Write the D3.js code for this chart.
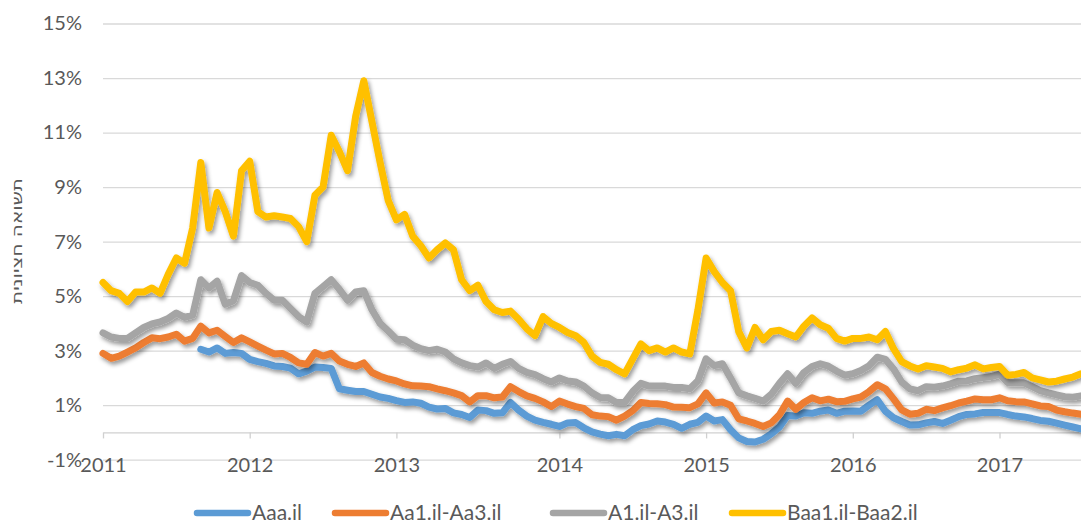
<!DOCTYPE html>
<html>
<head>
<meta charset="utf-8">
<script src="https://cdn.jsdelivr.net/npm/d3@7"></script>
<style>
  body { margin: 0; background: #fff; }
  svg text { font-family: Lato, "DejaVu Sans", sans-serif; fill: #595959; }
</style>
</head>
<body>
<svg id="chart" width="1081" height="524"></svg>
<script>
// year labels sit on the observation index where each year starts (category axis)
const yearLabels = ["2011", "2012", "2013", "2014", "2015", "2016", "2017"];
const yearIdx = [0, 18, 36, 56, 74, 92, 110];
const yTicks = [-1, 1, 3, 5, 7, 9, 11, 13, 15];

const seriesNames = ["Aaa.il", "Aa1.il-Aa3.il", "A1.il-A3.il", "Baa1.il-Baa2.il"];
const seriesColors = ["#5b9bd5", "#ed7d31", "#a5a5a5", "#ffc000"];

// median yields, %
const aaa = [
  null, null, null, null, null, null, null, null, null, null,
  null, null, 3.05, 2.95, 3.1, 2.9, 2.93, 2.9, 2.68, 2.6,
  2.53, 2.44, 2.42, 2.36, 2.15, 2.25, 2.4, 2.38, 2.35, 1.6,
  1.55, 1.5, 1.5, 1.4, 1.3, 1.25, 1.17, 1.1, 1.12, 1.07,
  0.93, 0.86, 0.88, 0.72, 0.66, 0.55, 0.82, 0.8, 0.7, 0.72,
  1.1, 0.82, 0.6, 0.45, 0.37, 0.3, 0.22, 0.35, 0.36, 0.17,
  0.02, -0.06, -0.12, -0.07, -0.12, 0.1, 0.25, 0.31, 0.42, 0.38,
  0.3, 0.15, 0.3, 0.37, 0.6, 0.42, 0.47, 0.1, -0.2, -0.33,
  -0.35, -0.25, -0.05, 0.2, 0.62, 0.6, 0.72, 0.7, 0.78, 0.82,
  0.7, 0.78, 0.79, 0.78, 1.0, 1.2, 0.78, 0.54, 0.4, 0.27,
  0.28, 0.35, 0.4, 0.33, 0.45, 0.58, 0.66, 0.68, 0.73, 0.73,
  0.73, 0.66, 0.6, 0.57, 0.51, 0.44, 0.41, 0.34, 0.27, 0.2,
  0.13
];
const aa = [
  2.9, 2.72, 2.8, 2.95, 3.1, 3.3, 3.47, 3.44, 3.5, 3.6,
  3.35, 3.45, 3.9, 3.65, 3.75, 3.52, 3.3, 3.47, 3.32, 3.17,
  3.02, 2.88, 2.9, 2.75, 2.55, 2.5, 2.93, 2.8, 2.9, 2.62,
  2.5, 2.42, 2.55, 2.2, 2.06, 1.96, 1.89, 1.78, 1.71, 1.7,
  1.68, 1.6, 1.53, 1.45, 1.35, 1.12, 1.35, 1.35, 1.27, 1.3,
  1.68, 1.5, 1.34, 1.25, 1.12, 0.95, 1.15, 1.04, 0.95, 0.88,
  0.65, 0.6, 0.58, 0.45, 0.6, 0.8, 1.1, 1.06, 1.05, 1.02,
  0.93, 0.92, 0.91, 1.05, 1.45, 1.08, 1.12, 1.0, 0.5, 0.42,
  0.33, 0.22, 0.35, 0.65, 1.15, 0.85, 1.1, 1.27, 1.16, 1.22,
  1.13, 1.14, 1.23, 1.3, 1.5, 1.75, 1.6, 1.23, 0.83, 0.67,
  0.7, 0.85, 0.8, 0.9, 0.98, 1.08, 1.15, 1.23, 1.2, 1.2,
  1.27, 1.16, 1.13, 1.12, 1.05, 0.97, 0.95, 0.82, 0.76, 0.71,
  0.67
];
const a = [
  3.65, 3.5, 3.45, 3.45, 3.65, 3.85, 3.98, 4.05, 4.18, 4.38,
  4.22, 4.3, 5.6, 5.3, 5.55, 4.7, 4.83, 5.75, 5.5, 5.4,
  5.1, 4.85, 4.85, 4.55, 4.25, 4.05, 5.1, 5.35, 5.6, 5.25,
  4.85, 5.15, 5.2, 4.5, 4.0, 3.72, 3.42, 3.4, 3.2, 3.07,
  3.0, 3.05, 2.95, 2.7, 2.55, 2.45, 2.4, 2.55, 2.35, 2.5,
  2.6, 2.35, 2.2, 2.12, 1.97, 1.85, 2.0, 1.89, 1.85, 1.7,
  1.45, 1.28, 1.27, 1.1, 1.1, 1.5, 1.8, 1.7, 1.7, 1.7,
  1.65, 1.65, 1.6, 1.9, 2.7, 2.45, 2.52, 2.0, 1.45, 1.34,
  1.25, 1.15, 1.4, 1.8, 2.15, 1.8, 2.2, 2.42, 2.52, 2.43,
  2.25, 2.1, 2.15, 2.27, 2.45, 2.76, 2.68, 2.33, 1.85, 1.6,
  1.53, 1.68, 1.66, 1.7, 1.78, 1.88, 1.89, 1.97, 2.01, 2.05,
  2.14, 1.83, 1.82, 1.82, 1.68, 1.53, 1.45, 1.38, 1.31, 1.29,
  1.34
];
const baa = [
  5.5, 5.2, 5.1, 4.8, 5.15, 5.15, 5.3, 5.1, 5.8, 6.4,
  6.2, 7.5, 9.9, 7.5, 8.8, 8.1, 7.2, 9.6, 9.95, 8.1,
  7.9, 7.95, 7.9, 7.85, 7.55, 7.0, 8.7, 9.0, 10.9, 10.3,
  9.6, 11.6, 12.9, 11.4, 9.9, 8.5, 7.8, 8.0, 7.2, 6.85,
  6.4, 6.7, 6.95, 6.7, 5.6, 5.2, 5.4, 4.8, 4.5, 4.4,
  4.45, 4.15, 3.8, 3.55, 4.25, 4.0, 3.85, 3.67, 3.55, 3.3,
  2.8, 2.57, 2.5, 2.3, 2.15, 2.7, 3.25, 3.0, 3.1, 2.95,
  3.1, 2.95, 2.88, 4.5, 6.4, 5.9, 5.5, 5.2, 3.7, 3.1,
  3.85, 3.4, 3.7, 3.75, 3.62, 3.5, 3.9, 4.2, 3.95, 3.82,
  3.45, 3.35, 3.45, 3.45, 3.5, 3.4, 3.7, 3.07, 2.6, 2.44,
  2.33, 2.45, 2.4, 2.35, 2.22, 2.3, 2.36, 2.48, 2.33, 2.38,
  2.42, 2.1, 2.13, 2.2, 2.0, 1.93, 1.85, 1.88, 1.96, 2.03,
  2.15
];
const allSeries = [aaa, aa, a, baa];

const svg = d3.select('#chart');
const left = 103, right = 1081;

const x = d3.scaleLinear().domain([0, baa.length - 1]).range([left, right]);
const y = d3.scaleLinear().domain([-1, 15]).range([459.7, 23.5]);

// drop shadow like the excel line effect
const defs = svg.append('defs');
defs.append('filter')
    .attr('id', 'shadow')
    .attr('x', '-5%').attr('y', '-10%')
    .attr('width', '110%').attr('height', '130%')
  .append('feDropShadow')
    .attr('dx', 2).attr('dy', 3)
    .attr('stdDeviation', 2.2)
    .attr('flood-color', '#000')
    .attr('flood-opacity', 0.4);

// gridlines + y labels
const yAxis = svg.append('g')
    .attr('transform', `translate(${left},0)`)
    .call(d3.axisLeft(y)
        .tickValues(yTicks)
        .tickSize(-(right - left))
        .tickPadding(21)
        .tickFormat(d => d + '%'));
yAxis.select('.domain').remove();
yAxis.selectAll('line').attr('stroke', '#d9d9d9').attr('stroke-width', 1.3);
yAxis.selectAll('text').style('font-size', '20px').attr('fill', '#595959');

// x axis at 0%
const xAxis = svg.append('g')
    .attr('transform', `translate(0,${y(0)})`)
    .call(d3.axisBottom(x)
        .tickValues(yearIdx)
        .tickFormat((d, i) => yearLabels[i])
        .tickSize(6)
        .tickSizeOuter(0)
        .tickPadding(19));
xAxis.select('.domain').attr('stroke', '#d0d0d0').attr('stroke-width', 1.3);
xAxis.selectAll('line').attr('stroke', '#d0d0d0').attr('stroke-width', 1.3);
xAxis.selectAll('text').style('font-size', '20px').attr('fill', '#595959');

// y title (hebrew)
svg.append('text')
    .attr('transform', 'translate(17,241) rotate(-90)')
    .attr('text-anchor', 'middle')
    .attr('dominant-baseline', 'central')
    .attr('textLength', 126)
    .attr('lengthAdjust', 'spacingAndGlyphs')
    .style('font-family', '"DejaVu Sans", sans-serif')
    .style('font-size', '15px')
    .attr('fill', '#7f7f7f')
    .text('תשואה חציונית');

// the lines
const line = d3.line()
    .defined(d => d != null)
    .x((d, i) => x(i))
    .y(d => y(d));

const lines = svg.append('g');
allSeries.forEach((s, idx) => {
    lines.append('path')
        .attr('d', line(s))
        .attr('fill', 'none')
        .attr('stroke', seriesColors[idx])
        .attr('stroke-width', 7)
        .attr('stroke-linejoin', 'round')
        .attr('stroke-linecap', 'round')
        .attr('filter', 'url(#shadow)');
});

// legend; item start positions follow the excel layout
const legendX = [197, 335, 553, 732];
const legend = svg.append('g').attr('transform', 'translate(0,513)');
seriesNames.forEach((name, idx) => {
    const g = legend.append('g').attr('transform', `translate(${legendX[idx]},0)`);
    g.append('line')
        .attr('x1', 0).attr('x2', 51)
        .attr('y1', 0).attr('y2', 0)
        .attr('stroke', seriesColors[idx])
        .attr('stroke-width', 6.5)
        .attr('stroke-linecap', 'round');
    g.append('text')
        .attr('x', 55)
        .attr('dy', '0.35em')
        .style('font-size', '21px')
        .attr('fill', '#595959')
        .text(name);
});
</script>
</body>
</html>
